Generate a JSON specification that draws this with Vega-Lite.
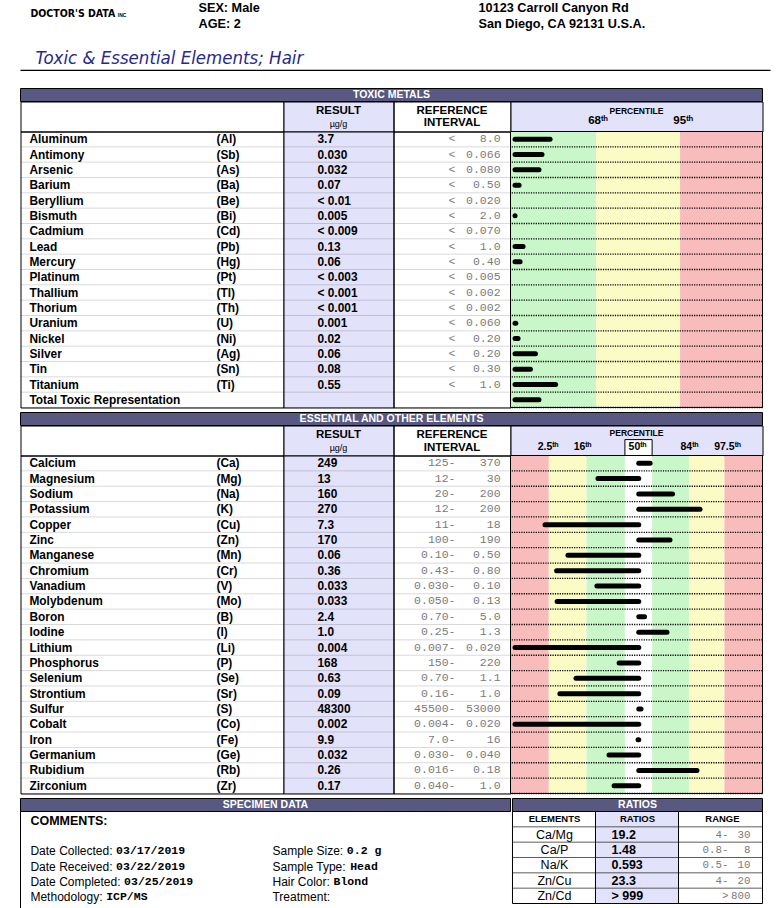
{
  "$schema": "https://vega.github.io/schema/vega-lite/v6.json",
  "padding": {"left": 19.5, "top": 0.5, "right": 0, "bottom": 0},
  "background": "white",
  "columns": 4,
  "align": "each",
  "spacing": {"row": 0, "column": 0},
  "bounds": "flush",
  "config": {
    "view": {"stroke": null},
    "text": {"font": "Liberation Sans", "baseline": "middle", "fontSize": 11.9, "color": "black"}
  },
  "datasets": {
    "header": [
      {"block": "patient", "lines": ["SEX: Male", "AGE: 2"]},
      {"block": "lab", "lines": ["10123 Carroll Canyon Rd", "San Diego, CA 92131 U.S.A."]}
    ],
    "toxic": [
      {"el": "Aluminum", "sym": "(Al)", "res": "3.7", "lo": "<", "hi": "8.0", "pct": 15.7},
      {"el": "Antimony", "sym": "(Sb)", "res": "0.030", "lo": "<", "hi": "0.066", "pct": 12.5},
      {"el": "Arsenic", "sym": "(As)", "res": "0.032", "lo": "<", "hi": "0.080", "pct": 11.3},
      {"el": "Barium", "sym": "(Ba)", "res": "0.07", "lo": "<", "hi": "0.50", "pct": 3.4},
      {"el": "Beryllium", "sym": "(Be)", "res": "< 0.01", "lo": "<", "hi": "0.020", "pct": null},
      {"el": "Bismuth", "sym": "(Bi)", "res": "0.005", "lo": "<", "hi": "2.0", "pct": 1.8},
      {"el": "Cadmium", "sym": "(Cd)", "res": "< 0.009", "lo": "<", "hi": "0.070", "pct": null},
      {"el": "Lead", "sym": "(Pb)", "res": "0.13", "lo": "<", "hi": "1.0", "pct": 5.0},
      {"el": "Mercury", "sym": "(Hg)", "res": "0.06", "lo": "<", "hi": "0.40", "pct": 3.8},
      {"el": "Platinum", "sym": "(Pt)", "res": "< 0.003", "lo": "<", "hi": "0.005", "pct": null},
      {"el": "Thallium", "sym": "(Tl)", "res": "< 0.001", "lo": "<", "hi": "0.002", "pct": null},
      {"el": "Thorium", "sym": "(Th)", "res": "< 0.001", "lo": "<", "hi": "0.002", "pct": null},
      {"el": "Uranium", "sym": "(U)", "res": "0.001", "lo": "<", "hi": "0.060", "pct": 2.1},
      {"el": "Nickel", "sym": "(Ni)", "res": "0.02", "lo": "<", "hi": "0.20", "pct": 3.0},
      {"el": "Silver", "sym": "(Ag)", "res": "0.06", "lo": "<", "hi": "0.20", "pct": 9.9},
      {"el": "Tin", "sym": "(Sn)", "res": "0.08", "lo": "<", "hi": "0.30", "pct": 7.9},
      {"el": "Titanium", "sym": "(Ti)", "res": "0.55", "lo": "<", "hi": "1.0", "pct": 17.9},
      {"el": "Total Toxic Representation", "sym": "", "res": "", "lo": "", "hi": "", "pct": 11.3}
    ],
    "essential": [
      {"el": "Calcium", "sym": "(Ca)", "res": "249", "lo": "125-", "hi": "370", "pct": 55.4},
      {"el": "Magnesium", "sym": "(Mg)", "res": "13", "lo": "12-", "hi": "30", "pct": 34.7},
      {"el": "Sodium", "sym": "(Na)", "res": "160", "lo": "20-", "hi": "200", "pct": 64.3},
      {"el": "Potassium", "sym": "(K)", "res": "270", "lo": "12-", "hi": "200", "pct": 75.2},
      {"el": "Copper", "sym": "(Cu)", "res": "7.3", "lo": "11-", "hi": "18", "pct": 13.7},
      {"el": "Zinc", "sym": "(Zn)", "res": "170", "lo": "100-", "hi": "190", "pct": 63.3},
      {"el": "Manganese", "sym": "(Mn)", "res": "0.06", "lo": "0.10-", "hi": "0.50", "pct": 22.8},
      {"el": "Chromium", "sym": "(Cr)", "res": "0.36", "lo": "0.43-", "hi": "0.80", "pct": 18.3},
      {"el": "Vanadium", "sym": "(V)", "res": "0.033", "lo": "0.030-", "hi": "0.10", "pct": 34.3},
      {"el": "Molybdenum", "sym": "(Mo)", "res": "0.033", "lo": "0.050-", "hi": "0.13", "pct": 18.5},
      {"el": "Boron", "sym": "(B)", "res": "2.4", "lo": "0.70-", "hi": "5.0", "pct": 53.2},
      {"el": "Iodine", "sym": "(I)", "res": "1.0", "lo": "0.25-", "hi": "1.3", "pct": 62.1},
      {"el": "Lithium", "sym": "(Li)", "res": "0.004", "lo": "0.007-", "hi": "0.020", "pct": 1.8},
      {"el": "Phosphorus", "sym": "(P)", "res": "168", "lo": "150-", "hi": "220", "pct": 43.1},
      {"el": "Selenium", "sym": "(Se)", "res": "0.63", "lo": "0.70-", "hi": "1.1", "pct": 26.0},
      {"el": "Strontium", "sym": "(Sr)", "res": "0.09", "lo": "0.16-", "hi": "1.0", "pct": 19.6},
      {"el": "Sulfur", "sym": "(S)", "res": "48300", "lo": "45500-", "hi": "53000", "pct": 51.8},
      {"el": "Cobalt", "sym": "(Co)", "res": "0.002", "lo": "0.004-", "hi": "0.020", "pct": 1.8},
      {"el": "Iron", "sym": "(Fe)", "res": "9.9", "lo": "7.0-", "hi": "16", "pct": 50.6},
      {"el": "Germanium", "sym": "(Ge)", "res": "0.032", "lo": "0.030-", "hi": "0.040", "pct": 39.1},
      {"el": "Rubidium", "sym": "(Rb)", "res": "0.26", "lo": "0.016-", "hi": "0.18", "pct": 74.0},
      {"el": "Zirconium", "sym": "(Zr)", "res": "0.17", "lo": "0.040-", "hi": "1.0", "pct": 41.1}
    ],
    "toxBands": [
      {"x0": 0, "x1": 34, "zone": "in"},
      {"x0": 34, "x1": 67.3, "zone": "edge"},
      {"x0": 67.3, "x1": 100, "zone": "out"}
    ],
    "essBands": [
      {"x0": 0, "x1": 15.2, "zone": "out"},
      {"x0": 15.2, "x1": 30.2, "zone": "edge"},
      {"x0": 30.2, "x1": 45.4, "zone": "in"},
      {"x0": 45.4, "x1": 56.2, "zone": "mid"},
      {"x0": 56.2, "x1": 70.8, "zone": "in"},
      {"x0": 70.8, "x1": 84.9, "zone": "edge"},
      {"x0": 84.9, "x1": 100, "zone": "out"}
    ],
    "toxLabels": [
      {"lab": "68ᵗʰ", "pos": 34.7},
      {"lab": "95ᵗʰ", "pos": 68.5}
    ],
    "essLabels": [
      {"lab": "2.5ᵗʰ", "pos": 14.9},
      {"lab": "16ᵗʰ", "pos": 28.6},
      {"lab": "50ᵗʰ", "pos": 50.4},
      {"lab": "84ᵗʰ", "pos": 71.0},
      {"lab": "97.5ᵗʰ", "pos": 86.1}
    ],
    "specimen": [
      {"col": 1, "line": 2, "label": "Date Collected:", "value": "03/17/2019"},
      {"col": 1, "line": 3, "label": "Date Received:", "value": "03/22/2019"},
      {"col": 1, "line": 4, "label": "Date Completed:", "value": "03/25/2019"},
      {"col": 1, "line": 5, "label": "Methodology:", "value": "ICP/MS"},
      {"col": 2, "line": 2, "label": "Sample Size:", "value": "0.2 g"},
      {"col": 2, "line": 3, "label": "Sample Type:", "value": "Head"},
      {"col": 2, "line": 4, "label": "Hair Color:", "value": "Blond"},
      {"col": 2, "line": 5, "label": "Treatment:", "value": ""}
    ],
    "ratios": [
      {"el": "Ca/Mg", "ratio": "19.2", "lo": "4-", "hi": "30"},
      {"el": "Ca/P", "ratio": "1.48", "lo": "0.8-", "hi": "8"},
      {"el": "Na/K", "ratio": "0.593", "lo": "0.5-", "hi": "10"},
      {"el": "Zn/Cu", "ratio": "23.3", "lo": "4-", "hi": "20"},
      {"el": "Zn/Cd", "ratio": "> 999", "lo": ">", "hi": "800"}
    ]
  },
  "concat": [
    {
      "width": 263, "height": 88,
      "layer": [
        {"data": {"values": [{"t": "DOCTOR'S DATA"}]},
         "mark": {"type": "text", "align": "left", "font": "Liberation Sans Narrow, DejaVu Sans Condensed, Liberation Sans", "fontWeight": "bold", "fontSize": 10.5},
         "encoding": {"x": {"datum": 0.0133, "type": "quantitative", "scale": {"domain": [0, 0.35067], "nice": false, "zero": false}, "axis": null},
                      "y": {"datum": 0.15, "type": "quantitative", "scale": {"domain": [0, 1], "reverse": true, "nice": false, "zero": false}, "axis": null},
                      "text": {"field": "t"}}},
        {"data": {"values": [{"t": "INC"}]},
         "mark": {"type": "text", "fontSize": 5, "fontWeight": "bold"},
         "encoding": {"x": {"datum": 0.1355, "type": "quantitative"}, "y": {"datum": 0.16, "type": "quantitative"}, "text": {"field": "t"}}},
        {"data": {"name": "header"}, "transform": [{"filter": "datum.block == 'patient'"}],
         "mark": {"type": "text", "align": "left", "baseline": "top", "lineHeight": 16, "fontWeight": "bold", "fontSize": 12.7},
         "encoding": {"x": {"datum": 0.2373, "type": "quantitative"}, "y": {"datum": 0.017, "type": "quantitative"}, "text": {"field": "lines"}}},
        {"data": {"name": "header"}, "transform": [{"filter": "datum.block == 'lab'"}],
         "mark": {"type": "text", "align": "left", "baseline": "top", "lineHeight": 16, "fontWeight": "bold", "fontSize": 12.7},
         "encoding": {"x": {"datum": 0.6107, "type": "quantitative"}, "y": {"datum": 0.017, "type": "quantitative"}, "text": {"field": "lines"}}},
        {"data": {"values": [{"t": "Toxic & Essential Elements; Hair"}]},
         "mark": {"type": "text", "align": "left", "font": "Liberation Sans Narrow, DejaVu Sans Condensed, Liberation Sans", "fontStyle": "italic", "fontSize": 18.5, "color": "#28288c"},
         "encoding": {"x": {"datum": 0.02, "type": "quantitative"}, "y": {"datum": 0.648, "type": "quantitative"}, "text": {"field": "t"}}},
        {"data": {"values": [{}]},
         "mark": {"type": "rule", "color": "black", "strokeWidth": 1.2},
         "encoding": {"x": {"datum": 0, "type": "quantitative"}, "x2": {"datum": 1}, "y": {"datum": 0.795, "type": "quantitative"}}}
      ]
    },
    {"width": 1, "height": 1, "data": {"values": [{}]}, "mark": {"type": "text", "text": "", "fontSize": 0}},
    {"width": 1, "height": 1, "data": {"values": [{}]}, "mark": {"type": "text", "text": "", "fontSize": 0}},
    {"width": 1, "height": 1, "data": {"values": [{}]}, "mark": {"type": "text", "text": "", "fontSize": 0}},

    {"width": 263, "height": 13,
     "layer": [
       {"data": {"values": [{}]},
        "mark": {"type": "rect", "fill": "#585880", "stroke": "black", "strokeWidth": 1},
        "encoding": {"x": {"datum": 0, "type": "quantitative", "scale": {"domain": [0, 0.35445], "nice": false, "zero": false}, "axis": null}, "x2": {"datum": 1}}},
       {"data": {"values": [{"t": "TOXIC METALS"}]},
        "mark": {"type": "text", "color": "white", "fontWeight": "bold", "fontSize": 10.5},
        "encoding": {"x": {"datum": 0.5, "type": "quantitative"}, "text": {"field": "t"}}}
     ]},
    {"width": 1, "height": 1, "data": {"values": [{}]}, "mark": {"type": "text", "text": "", "fontSize": 0}},
    {"width": 1, "height": 1, "data": {"values": [{}]}, "mark": {"type": "text", "text": "", "fontSize": 0}},
    {"width": 1, "height": 1, "data": {"values": [{}]}, "mark": {"type": "text", "text": "", "fontSize": 0}},

    {"width": 263, "height": 30, "view": {"stroke": "black", "strokeWidth": 1},
     "data": {"values": [{"t": ""}]}, "mark": {"type": "text", "fontSize": 0}, "encoding": {"text": {"field": "t"}}},
    {"width": 110, "height": 30, "view": {"fill": "#e2e2fa", "stroke": "black", "strokeWidth": 1},
     "data": {"values": [{"a": "RESULT", "b": "µg/g"}]},
     "layer": [
       {"mark": {"type": "text", "fontWeight": "bold", "fontSize": 11.5},
        "encoding": {"y": {"datum": 0.3, "type": "quantitative", "scale": {"domain": [0, 1], "reverse": true, "nice": false, "zero": false}, "axis": null}, "text": {"field": "a"}}},
       {"mark": {"type": "text", "fontSize": 9},
        "encoding": {"y": {"datum": 0.74, "type": "quantitative"}, "text": {"field": "b"}}}
     ]},
    {"width": 117, "height": 30, "view": {"stroke": "black", "strokeWidth": 1},
     "data": {"values": [{"a": "REFERENCE", "b": "INTERVAL"}]},
     "layer": [
       {"mark": {"type": "text", "fontWeight": "bold", "fontSize": 11.5},
        "encoding": {"y": {"datum": 0.3, "type": "quantitative", "scale": {"domain": [0, 1], "reverse": true, "nice": false, "zero": false}, "axis": null}, "text": {"field": "a"}}},
       {"mark": {"type": "text", "fontWeight": "bold", "fontSize": 11.5},
        "encoding": {"y": {"datum": 0.72, "type": "quantitative"}, "text": {"field": "b"}}}
     ]},
    {"width": 252, "height": 30, "view": {"fill": "#e2e2fa", "stroke": "black", "strokeWidth": 1},
     "layer": [
       {"data": {"values": [{"t": "PERCENTILE"}]},
        "mark": {"type": "text", "fontWeight": "bold", "fontSize": 8.5},
        "encoding": {"y": {"datum": 0.33, "type": "quantitative", "scale": {"domain": [0, 1], "reverse": true, "nice": false, "zero": false}, "axis": null}, "text": {"field": "t"}}},
       {"data": {"name": "toxLabels"},
        "mark": {"type": "text", "fontWeight": "bold", "fontSize": 11.5},
        "encoding": {"x": {"field": "pos", "type": "quantitative", "scale": {"domain": [0, 100], "nice": false, "zero": false}, "axis": null},
                     "y": {"datum": 0.66, "type": "quantitative"}, "text": {"field": "lab"}}}
     ]},

    {"width": 263, "height": 276, "view": {"stroke": "black", "strokeWidth": 1}, "data": {"name": "toxic"},
     "layer": [
       {"mark": {"type": "rule", "color": "black", "strokeWidth": 0.6, "opacity": 0.25},
        "encoding": {"y": {"field": "el", "type": "nominal", "sort": null, "axis": null, "scale": {"type": "band", "paddingInner": 0, "paddingOuter": 0}, "bandPosition": 1}}},
       {"mark": {"type": "text", "align": "left", "fontWeight": "bold"},
        "encoding": {"y": {"field": "el", "type": "nominal", "sort": null, "axis": null, "bandPosition": 0.5},
                     "x": {"datum": 0.034, "type": "quantitative", "scale": {"domain": [0, 1], "nice": false, "zero": false}, "axis": null},
                     "text": {"field": "el"}}},
       {"mark": {"type": "text", "align": "left", "fontWeight": "bold"},
        "encoding": {"y": {"field": "el", "type": "nominal", "sort": null, "axis": null, "bandPosition": 0.5},
                     "x": {"datum": 0.745, "type": "quantitative"}, "text": {"field": "sym"}}}
     ]},
    {"width": 110, "height": 276, "view": {"fill": "#e2e2fa", "stroke": "black", "strokeWidth": 1}, "data": {"name": "toxic"},
     "layer": [
       {"mark": {"type": "rule", "color": "black", "strokeWidth": 0.6, "opacity": 0.25},
        "encoding": {"y": {"field": "el", "type": "nominal", "sort": null, "axis": null, "scale": {"type": "band", "paddingInner": 0, "paddingOuter": 0}, "bandPosition": 1}}},
       {"mark": {"type": "text", "align": "left", "fontWeight": "bold"},
        "encoding": {"y": {"field": "el", "type": "nominal", "sort": null, "axis": null, "bandPosition": 0.5},
                     "x": {"datum": 0.309, "type": "quantitative", "scale": {"domain": [0, 1], "nice": false, "zero": false}, "axis": null},
                     "text": {"field": "res"}}}
     ]},
    {"width": 117, "height": 276, "view": {"stroke": "black", "strokeWidth": 1}, "data": {"name": "toxic"},
     "layer": [
       {"mark": {"type": "rule", "color": "black", "strokeWidth": 0.6, "opacity": 0.25},
        "encoding": {"y": {"field": "el", "type": "nominal", "sort": null, "axis": null, "scale": {"type": "band", "paddingInner": 0, "paddingOuter": 0}, "bandPosition": 1}}},
       {"mark": {"type": "text", "align": "right", "font": "Liberation Mono", "fontSize": 11.5, "color": "#7a7a7a"},
        "encoding": {"y": {"field": "el", "type": "nominal", "sort": null, "axis": null, "bandPosition": 0.5},
                     "x": {"datum": 0.53, "type": "quantitative", "scale": {"domain": [0, 1], "nice": false, "zero": false}, "axis": null},
                     "text": {"field": "lo"}}},
       {"mark": {"type": "text", "align": "right", "font": "Liberation Mono", "fontSize": 11.5, "color": "#7a7a7a"},
        "encoding": {"y": {"field": "el", "type": "nominal", "sort": null, "axis": null, "bandPosition": 0.5},
                     "x": {"datum": 0.915, "type": "quantitative"}, "text": {"field": "hi"}}}
     ]},
    {"width": 252, "height": 276,
     "layer": [
       {"data": {"name": "toxBands"}, "mark": {"type": "rect"},
        "encoding": {"x": {"field": "x0", "type": "quantitative", "scale": {"domain": [0, 100], "nice": false, "zero": false}, "axis": null},
                     "x2": {"field": "x1"},
                     "color": {"field": "zone", "type": "nominal", "legend": null, "scale": {"domain": ["in", "edge", "out", "mid"], "range": ["#c9f7c9", "#fbfbc6", "#f9bcbc", "#ffffff"]}}}},
       {"data": {"name": "toxic"},
        "mark": {"type": "rule", "color": "black", "strokeWidth": 1.3, "strokeDash": [1.2, 1.2]},
        "encoding": {"y": {"field": "el", "type": "nominal", "sort": null, "axis": null, "scale": {"type": "band", "paddingInner": 0, "paddingOuter": 0}, "bandPosition": 1}}},
       {"data": {"name": "toxic"}, "transform": [{"filter": "isValid(datum.pct)"}],
        "mark": {"type": "rule", "color": "black", "strokeWidth": 5, "strokeCap": "round"},
        "encoding": {"y": {"field": "el", "type": "nominal", "sort": null, "axis": null, "bandPosition": 0.5},
                     "x": {"field": "pct", "type": "quantitative"}, "x2": {"datum": 1.8}}},
       {"data": {"values": [{}]},
        "mark": {"type": "rect", "filled": false, "color": "black", "strokeWidth": 1},
        "encoding": {"x": {"datum": 0, "type": "quantitative"}, "x2": {"datum": 100}}}
     ]},

    {"width": 1, "height": 5, "data": {"values": [{}]}, "mark": {"type": "text", "text": "", "fontSize": 0}},
    {"width": 1, "height": 1, "data": {"values": [{}]}, "mark": {"type": "text", "text": "", "fontSize": 0}},
    {"width": 1, "height": 1, "data": {"values": [{}]}, "mark": {"type": "text", "text": "", "fontSize": 0}},
    {"width": 1, "height": 1, "data": {"values": [{}]}, "mark": {"type": "text", "text": "", "fontSize": 0}},

    {"width": 263, "height": 13,
     "layer": [
       {"data": {"values": [{}]},
        "mark": {"type": "rect", "fill": "#585880", "stroke": "black", "strokeWidth": 1},
        "encoding": {"x": {"datum": 0, "type": "quantitative", "scale": {"domain": [0, 0.35445], "nice": false, "zero": false}, "axis": null}, "x2": {"datum": 1}}},
       {"data": {"values": [{"t": "ESSENTIAL AND OTHER ELEMENTS"}]},
        "mark": {"type": "text", "color": "white", "fontWeight": "bold", "fontSize": 10.5},
        "encoding": {"x": {"datum": 0.5, "type": "quantitative"}, "text": {"field": "t"}}}
     ]},
    {"width": 1, "height": 1, "data": {"values": [{}]}, "mark": {"type": "text", "text": "", "fontSize": 0}},
    {"width": 1, "height": 1, "data": {"values": [{}]}, "mark": {"type": "text", "text": "", "fontSize": 0}},
    {"width": 1, "height": 1, "data": {"values": [{}]}, "mark": {"type": "text", "text": "", "fontSize": 0}},

    {"width": 263, "height": 30, "view": {"stroke": "black", "strokeWidth": 1},
     "data": {"values": [{"t": ""}]}, "mark": {"type": "text", "fontSize": 0}, "encoding": {"text": {"field": "t"}}},
    {"width": 110, "height": 30, "view": {"fill": "#e2e2fa", "stroke": "black", "strokeWidth": 1},
     "data": {"values": [{"a": "RESULT", "b": "µg/g"}]},
     "layer": [
       {"mark": {"type": "text", "fontWeight": "bold", "fontSize": 11.5},
        "encoding": {"y": {"datum": 0.3, "type": "quantitative", "scale": {"domain": [0, 1], "reverse": true, "nice": false, "zero": false}, "axis": null}, "text": {"field": "a"}}},
       {"mark": {"type": "text", "fontSize": 9},
        "encoding": {"y": {"datum": 0.74, "type": "quantitative"}, "text": {"field": "b"}}}
     ]},
    {"width": 117, "height": 30, "view": {"stroke": "black", "strokeWidth": 1},
     "data": {"values": [{"a": "REFERENCE", "b": "INTERVAL"}]},
     "layer": [
       {"mark": {"type": "text", "fontWeight": "bold", "fontSize": 11.5},
        "encoding": {"y": {"datum": 0.3, "type": "quantitative", "scale": {"domain": [0, 1], "reverse": true, "nice": false, "zero": false}, "axis": null}, "text": {"field": "a"}}},
       {"mark": {"type": "text", "fontWeight": "bold", "fontSize": 11.5},
        "encoding": {"y": {"datum": 0.74, "type": "quantitative"}, "text": {"field": "b"}}}
     ]},
    {"width": 252, "height": 30, "view": {"fill": "#e2e2fa", "stroke": "black", "strokeWidth": 1},
     "layer": [
       {"data": {"name": "essBands"}, "transform": [{"filter": "datum.zone == 'mid'"}],
        "mark": {"type": "rect", "fill": "white", "stroke": "black", "strokeWidth": 1},
        "encoding": {"x": {"field": "x0", "type": "quantitative", "scale": {"domain": [0, 100], "nice": false, "zero": false}, "axis": null}, "x2": {"field": "x1"},
                     "y": {"datum": 0.47, "type": "quantitative", "scale": {"domain": [0, 1], "reverse": true, "nice": false, "zero": false}, "axis": null}, "y2": {"datum": 1}}},
       {"data": {"values": [{"t": "PERCENTILE"}]},
        "mark": {"type": "text", "fontWeight": "bold", "fontSize": 8.5},
        "encoding": {"y": {"datum": 0.24, "type": "quantitative"}, "text": {"field": "t"}}},
       {"data": {"name": "essLabels"},
        "mark": {"type": "text", "fontWeight": "bold", "fontSize": 10.5},
        "encoding": {"x": {"field": "pos", "type": "quantitative"},
                     "y": {"datum": 0.72, "type": "quantitative"}, "text": {"field": "lab"}}}
     ]},

    {"width": 263, "height": 338, "view": {"stroke": "black", "strokeWidth": 1}, "data": {"name": "essential"},
     "layer": [
       {"mark": {"type": "rule", "color": "black", "strokeWidth": 0.6, "opacity": 0.25},
        "encoding": {"y": {"field": "el", "type": "nominal", "sort": null, "axis": null, "scale": {"type": "band", "paddingInner": 0, "paddingOuter": 0}, "bandPosition": 1}}},
       {"mark": {"type": "text", "align": "left", "fontWeight": "bold"},
        "encoding": {"y": {"field": "el", "type": "nominal", "sort": null, "axis": null, "bandPosition": 0.5},
                     "x": {"datum": 0.034, "type": "quantitative", "scale": {"domain": [0, 1], "nice": false, "zero": false}, "axis": null},
                     "text": {"field": "el"}}},
       {"mark": {"type": "text", "align": "left", "fontWeight": "bold"},
        "encoding": {"y": {"field": "el", "type": "nominal", "sort": null, "axis": null, "bandPosition": 0.5},
                     "x": {"datum": 0.745, "type": "quantitative"}, "text": {"field": "sym"}}}
     ]},
    {"width": 110, "height": 338, "view": {"fill": "#e2e2fa", "stroke": "black", "strokeWidth": 1}, "data": {"name": "essential"},
     "layer": [
       {"mark": {"type": "rule", "color": "black", "strokeWidth": 0.6, "opacity": 0.25},
        "encoding": {"y": {"field": "el", "type": "nominal", "sort": null, "axis": null, "scale": {"type": "band", "paddingInner": 0, "paddingOuter": 0}, "bandPosition": 1}}},
       {"mark": {"type": "text", "align": "left", "fontWeight": "bold"},
        "encoding": {"y": {"field": "el", "type": "nominal", "sort": null, "axis": null, "bandPosition": 0.5},
                     "x": {"datum": 0.309, "type": "quantitative", "scale": {"domain": [0, 1], "nice": false, "zero": false}, "axis": null},
                     "text": {"field": "res"}}}
     ]},
    {"width": 117, "height": 338, "view": {"stroke": "black", "strokeWidth": 1}, "data": {"name": "essential"},
     "layer": [
       {"mark": {"type": "rule", "color": "black", "strokeWidth": 0.6, "opacity": 0.25},
        "encoding": {"y": {"field": "el", "type": "nominal", "sort": null, "axis": null, "scale": {"type": "band", "paddingInner": 0, "paddingOuter": 0}, "bandPosition": 1}}},
       {"mark": {"type": "text", "align": "right", "font": "Liberation Mono", "fontSize": 11.5, "color": "#7a7a7a"},
        "encoding": {"y": {"field": "el", "type": "nominal", "sort": null, "axis": null, "bandPosition": 0.5},
                     "x": {"datum": 0.53, "type": "quantitative", "scale": {"domain": [0, 1], "nice": false, "zero": false}, "axis": null},
                     "text": {"field": "lo"}}},
       {"mark": {"type": "text", "align": "right", "font": "Liberation Mono", "fontSize": 11.5, "color": "#7a7a7a"},
        "encoding": {"y": {"field": "el", "type": "nominal", "sort": null, "axis": null, "bandPosition": 0.5},
                     "x": {"datum": 0.915, "type": "quantitative"}, "text": {"field": "hi"}}}
     ]},
    {"width": 252, "height": 338,
     "layer": [
       {"data": {"name": "essBands"}, "mark": {"type": "rect"},
        "encoding": {"x": {"field": "x0", "type": "quantitative", "scale": {"domain": [0, 100], "nice": false, "zero": false}, "axis": null},
                     "x2": {"field": "x1"},
                     "color": {"field": "zone", "type": "nominal", "legend": null, "scale": {"domain": ["in", "edge", "out", "mid"], "range": ["#c9f7c9", "#fbfbc6", "#f9bcbc", "#ffffff"]}}}},
       {"data": {"name": "essential"},
        "mark": {"type": "rule", "color": "black", "strokeWidth": 1.3, "strokeDash": [1.2, 1.2]},
        "encoding": {"y": {"field": "el", "type": "nominal", "sort": null, "axis": null, "scale": {"type": "band", "paddingInner": 0, "paddingOuter": 0}, "bandPosition": 1}}},
       {"data": {"name": "essential"},
        "mark": {"type": "rule", "color": "black", "strokeWidth": 5, "strokeCap": "round"},
        "encoding": {"y": {"field": "el", "type": "nominal", "sort": null, "axis": null, "bandPosition": 0.5},
                     "x": {"field": "pct", "type": "quantitative"}, "x2": {"datum": 50.9}}},
       {"data": {"values": [{}]},
        "mark": {"type": "rect", "filled": false, "color": "black", "strokeWidth": 1},
        "encoding": {"x": {"datum": 0, "type": "quantitative"}, "x2": {"datum": 100}}}
     ]},

    {"width": 1, "height": 5, "data": {"values": [{}]}, "mark": {"type": "text", "text": "", "fontSize": 0}},
    {"width": 1, "height": 1, "data": {"values": [{}]}, "mark": {"type": "text", "text": "", "fontSize": 0}},
    {"width": 1, "height": 1, "data": {"values": [{}]}, "mark": {"type": "text", "text": "", "fontSize": 0}},
    {"width": 1, "height": 1, "data": {"values": [{}]}, "mark": {"type": "text", "text": "", "fontSize": 0}},

    {"width": 263, "height": 13,
     "layer": [
       {"data": {"values": [{}]},
        "mark": {"type": "rect", "fill": "#585880", "stroke": "black", "strokeWidth": 1},
        "encoding": {"x": {"datum": 0, "type": "quantitative", "scale": {"domain": [0, 0.5367], "nice": false, "zero": false}, "axis": null}, "x2": {"datum": 1}}},
       {"data": {"values": [{"t": "SPECIMEN DATA"}]},
        "mark": {"type": "text", "color": "white", "fontWeight": "bold", "fontSize": 10.5},
        "encoding": {"x": {"datum": 0.5, "type": "quantitative"}, "text": {"field": "t"}}}
     ]},
    {"width": 1, "height": 1, "data": {"values": [{}]}, "mark": {"type": "text", "text": "", "fontSize": 0}},
    {"width": 1, "height": 1, "data": {"values": [{}]}, "mark": {"type": "text", "text": "", "fontSize": 0}},
    {"width": 252, "height": 13,
     "layer": [
       {"data": {"values": [{}]},
        "mark": {"type": "rect", "fill": "#585880", "stroke": "black", "strokeWidth": 1},
        "encoding": {"x": {"datum": 0.0079, "type": "quantitative", "scale": {"domain": [0, 1], "nice": false, "zero": false}, "axis": null}, "x2": {"datum": 1}}},
       {"data": {"values": [{"t": "RATIOS"}]},
        "mark": {"type": "text", "color": "white", "fontWeight": "bold", "fontSize": 10.5},
        "encoding": {"x": {"datum": 0.504, "type": "quantitative"}, "text": {"field": "t"}}}
     ]},

    {"width": 263, "height": 97,
     "layer": [
       {"data": {"values": [{}]},
        "mark": {"type": "rule", "color": "black", "strokeWidth": 1},
        "encoding": {"x": {"datum": 0, "type": "quantitative", "scale": {"domain": [0, 0.5367], "nice": false, "zero": false}, "axis": null}}},
       {"data": {"values": [{"t": "COMMENTS:"}]},
        "mark": {"type": "text", "align": "left", "fontWeight": "bold", "fontSize": 12.5},
        "encoding": {"x": {"datum": 0.0203, "type": "quantitative"},
                     "y": {"datum": 0, "type": "quantitative", "scale": {"domain": [-0.614, 5.725], "reverse": true, "nice": false, "zero": false}, "axis": null},
                     "text": {"field": "t"}}},
       {"data": {"name": "specimen"}, "transform": [{"filter": "datum.col == 1"}],
        "mark": {"type": "text", "align": "left", "fontSize": 12},
        "encoding": {"x": {"datum": 0.0203, "type": "quantitative"}, "y": {"field": "line", "type": "quantitative"}, "text": {"field": "label"}}},
       {"data": {"name": "specimen"}, "transform": [{"filter": "datum.col == 2"}],
        "mark": {"type": "text", "align": "left", "fontSize": 12},
        "encoding": {"x": {"datum": 0.5142, "type": "quantitative"}, "y": {"field": "line", "type": "quantitative"}, "text": {"field": "label"}}},
       {"data": {"name": "specimen"}, "transform": [{"filter": "datum.label == 'Date Collected:' || datum.label == 'Date Received:'"}],
        "mark": {"type": "text", "align": "left", "font": "Liberation Mono", "fontWeight": "bold", "fontSize": 11.5},
        "encoding": {"x": {"datum": 0.1951, "type": "quantitative"}, "y": {"field": "line", "type": "quantitative"}, "text": {"field": "value"}}},
       {"data": {"name": "specimen"}, "transform": [{"filter": "datum.label == 'Date Completed:'"}],
        "mark": {"type": "text", "align": "left", "font": "Liberation Mono", "fontWeight": "bold", "fontSize": 11.5},
        "encoding": {"x": {"datum": 0.2114, "type": "quantitative"}, "y": {"field": "line", "type": "quantitative"}, "text": {"field": "value"}}},
       {"data": {"name": "specimen"}, "transform": [{"filter": "datum.label == 'Methodology:'"}],
        "mark": {"type": "text", "align": "left", "font": "Liberation Mono", "fontWeight": "bold", "fontSize": 11.5},
        "encoding": {"x": {"datum": 0.1748, "type": "quantitative"}, "y": {"field": "line", "type": "quantitative"}, "text": {"field": "value"}}},
       {"data": {"name": "specimen"}, "transform": [{"filter": "datum.label == 'Sample Size:'"}],
        "mark": {"type": "text", "align": "left", "font": "Liberation Mono", "fontWeight": "bold", "fontSize": 11.5},
        "encoding": {"x": {"datum": 0.6660, "type": "quantitative"}, "y": {"field": "line", "type": "quantitative"}, "text": {"field": "value"}}},
       {"data": {"name": "specimen"}, "transform": [{"filter": "datum.label == 'Sample Type:'"}],
        "mark": {"type": "text", "align": "left", "font": "Liberation Mono", "fontWeight": "bold", "fontSize": 11.5},
        "encoding": {"x": {"datum": 0.6728, "type": "quantitative"}, "y": {"field": "line", "type": "quantitative"}, "text": {"field": "value"}}},
       {"data": {"name": "specimen"}, "transform": [{"filter": "datum.label == 'Hair Color:'"}],
        "mark": {"type": "text", "align": "left", "font": "Liberation Mono", "fontWeight": "bold", "fontSize": 11.5},
        "encoding": {"x": {"datum": 0.6388, "type": "quantitative"}, "y": {"field": "line", "type": "quantitative"}, "text": {"field": "value"}}}
     ]},
    {"width": 1, "height": 1, "data": {"values": [{}]}, "mark": {"type": "text", "text": "", "fontSize": 0}},
    {"width": 1, "height": 1, "data": {"values": [{}]}, "mark": {"type": "text", "text": "", "fontSize": 0}},
    {"width": 252, "height": 92,
     "layer": [
       {"data": {"values": [{}]},
        "mark": {"type": "rect", "fill": "#e2e2fa"},
        "encoding": {"x": {"datum": 0.3373, "type": "quantitative", "scale": {"domain": [0, 1], "nice": false, "zero": false}, "axis": null}, "x2": {"datum": 0.6667}}},
       {"data": {"name": "ratios"},
        "mark": {"type": "rule", "color": "#333333", "strokeWidth": 0.8},
        "encoding": {"y": {"field": "el", "type": "nominal", "axis": null, "scale": {"type": "band", "domain": ["hdr", "Ca/Mg", "Ca/P", "Na/K", "Zn/Cu", "Zn/Cd"], "paddingInner": 0, "paddingOuter": 0}, "bandPosition": 0},
                     "x": {"datum": 0.0079, "type": "quantitative"}, "x2": {"datum": 1}}},
       {"data": {"values": [{}]},
        "mark": {"type": "rule", "color": "black", "strokeWidth": 1},
        "encoding": {"x": {"datum": 0.3373, "type": "quantitative"}}},
       {"data": {"values": [{}]},
        "mark": {"type": "rule", "color": "black", "strokeWidth": 1},
        "encoding": {"x": {"datum": 0.6667, "type": "quantitative"}}},
       {"data": {"values": [{}]},
        "mark": {"type": "rect", "filled": false, "color": "black", "strokeWidth": 1},
        "encoding": {"x": {"datum": 0.0079, "type": "quantitative"}, "x2": {"datum": 1}}},
       {"data": {"values": [{"el": "hdr", "t": "ELEMENTS"}]},
        "mark": {"type": "text", "fontWeight": "bold", "fontSize": 9.5},
        "encoding": {"y": {"field": "el", "type": "nominal", "axis": null, "bandPosition": 0.5}, "x": {"datum": 0.1746, "type": "quantitative"}, "text": {"field": "t"}}},
       {"data": {"values": [{"el": "hdr", "t": "RATIOS"}]},
        "mark": {"type": "text", "fontWeight": "bold", "fontSize": 9.5},
        "encoding": {"y": {"field": "el", "type": "nominal", "axis": null, "bandPosition": 0.5}, "x": {"datum": 0.504, "type": "quantitative"}, "text": {"field": "t"}}},
       {"data": {"values": [{"el": "hdr", "t": "RANGE"}]},
        "mark": {"type": "text", "fontWeight": "bold", "fontSize": 9.5},
        "encoding": {"y": {"field": "el", "type": "nominal", "axis": null, "bandPosition": 0.5}, "x": {"datum": 0.841, "type": "quantitative"}, "text": {"field": "t"}}},
       {"data": {"name": "ratios"},
        "mark": {"type": "text", "fontSize": 12.5},
        "encoding": {"y": {"field": "el", "type": "nominal", "axis": null, "bandPosition": 0.5}, "x": {"datum": 0.1746, "type": "quantitative"}, "text": {"field": "el"}}},
       {"data": {"name": "ratios"},
        "mark": {"type": "text", "align": "left", "fontWeight": "bold", "fontSize": 12.5},
        "encoding": {"y": {"field": "el", "type": "nominal", "axis": null, "bandPosition": 0.5}, "x": {"datum": 0.4008, "type": "quantitative"}, "text": {"field": "ratio"}}},
       {"data": {"name": "ratios"},
        "mark": {"type": "text", "align": "right", "font": "Liberation Mono", "fontSize": 10.8, "color": "#7a7a7a"},
        "encoding": {"y": {"field": "el", "type": "nominal", "axis": null, "bandPosition": 0.5}, "x": {"datum": 0.865, "type": "quantitative"}, "text": {"field": "lo"}}},
       {"data": {"name": "ratios"},
        "mark": {"type": "text", "align": "right", "font": "Liberation Mono", "fontSize": 10.8, "color": "#7a7a7a"},
        "encoding": {"y": {"field": "el", "type": "nominal", "axis": null, "bandPosition": 0.5}, "x": {"datum": 0.9524, "type": "quantitative"}, "text": {"field": "hi"}}}
     ]}
  ]
}
